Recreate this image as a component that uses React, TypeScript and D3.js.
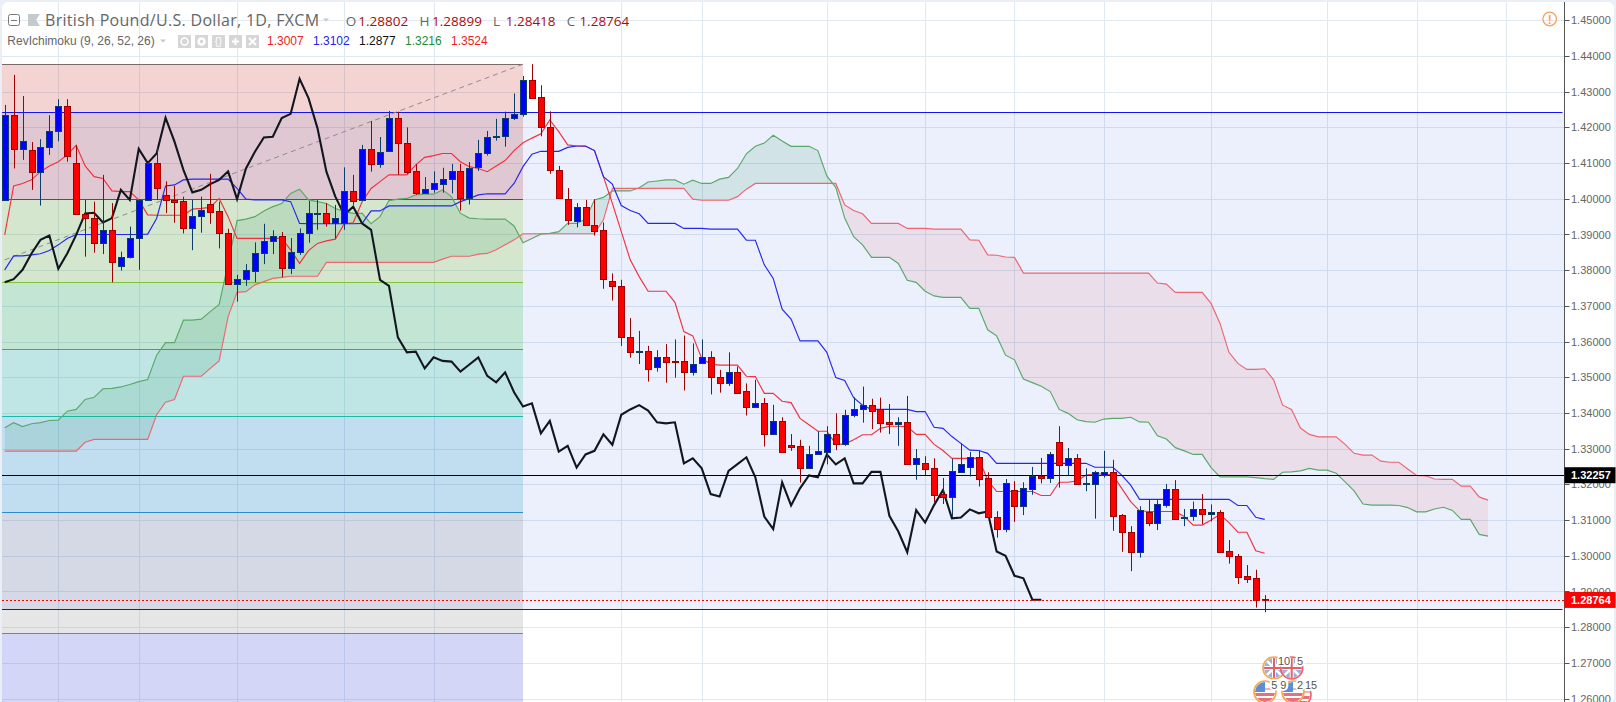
import React from "react";
import * as d3 from "d3";

const opens = [
1.3997,1.4234,1.4139,1.4136,1.4074,1.4145,1.4189,1.4259,1.4100,1.3957,
1.3946,1.3877,1.3912,1.3811,1.3836,1.3889,1.3997,1.4100,1.4012,1.3997,
1.3993,1.3918,1.3951,1.3985,1.3965,1.3903,1.3761,1.3774,1.3799,1.3847,
1.3883,1.3896,1.3805,1.3850,1.3903,1.3957,1.3960,1.3933,1.3933,1.4023,
1.3997,1.4139,1.4097,1.4133,1.4226,1.4156,1.4077,1.4017,1.4028,1.4042,
1.4055,1.4077,1.4002,1.4088,1.4127,1.4173,1.4175,1.4225,1.4237,1.4334,
1.4284,1.4200,1.4080,1.3999,1.3939,1.3976,1.3928,1.3912,1.3769,1.3755,
1.3612,1.3570,1.3573,1.3530,1.3556,1.3546,1.3545,1.3516,1.3541,1.3556,
1.3502,1.3485,1.3514,1.3461,1.3418,1.3428,1.3342,1.3377,1.3310,1.3308,
1.3247,1.3284,1.3292,1.3340,1.3312,1.3393,1.3410,1.3422,1.3411,1.3374,
1.3370,1.3374,1.3258,1.3259,1.3245,1.3173,1.3165,1.3236,1.3250,1.3276,
1.3217,1.3110,1.3076,1.3183,1.3140,1.3188,1.3224,1.3219,1.3318,1.3255,
1.3273,1.3202,1.3202,1.3226,1.3234,1.3113,1.3068,1.3012,1.3122,1.3093,
1.3143,1.3186,1.3105,1.3112,1.3130,1.3117,1.3124,1.3013,1.2999,1.2943,
1.2937,1.28802];
const closes = [
1.4234,1.4139,1.4162,1.4074,1.4145,1.4189,1.4259,1.4120,1.3957,1.3946,
1.3877,1.3912,1.3824,1.3836,1.3889,1.3997,1.4100,1.4031,1.3997,1.3992,
1.3918,1.3951,1.3968,1.3964,1.3903,1.3761,1.3775,1.3800,1.3847,1.3883,
1.3896,1.3805,1.3850,1.3903,1.3960,1.3961,1.3933,1.3946,1.4023,1.3995,
1.4139,1.4097,1.4130,1.4226,1.4156,1.4076,1.4017,1.4027,1.4043,1.4055,
1.4077,1.4002,1.4085,1.4128,1.4173,1.4177,1.4226,1.4237,1.4334,1.4283,
1.4200,1.4080,1.4002,1.3940,1.3976,1.3927,1.3911,1.3775,1.3755,1.3612,
1.3570,1.3574,1.3524,1.3556,1.3544,1.3544,1.3516,1.3537,1.3556,1.3502,
1.3485,1.3514,1.3457,1.3418,1.3428,1.3342,1.3377,1.3292,1.3306,1.3247,
1.3284,1.3294,1.3340,1.3312,1.3394,1.3411,1.3422,1.3407,1.3373,1.3370,
1.3374,1.3258,1.3273,1.3244,1.3171,1.3165,1.3237,1.3256,1.3276,1.3216,
1.3109,1.3075,1.3203,1.3140,1.3189,1.3224,1.3219,1.3284,1.3255,1.3273,
1.3202,1.3204,1.3234,1.3234,1.3112,1.3067,1.3012,1.3127,1.3093,1.3144,
1.3186,1.3104,1.3109,1.3130,1.3117,1.3124,1.3012,1.2999,1.2942,1.2936,
1.2876,1.28764];
const highs = [
1.4263,1.4347,1.4288,1.4159,1.4167,1.4234,1.4279,1.4279,1.4150,1.3997,
1.3992,1.4067,1.3988,1.3852,1.3922,1.3999,1.4102,1.4146,1.4049,1.4036,
1.4006,1.3997,1.4006,1.4070,1.3992,1.3916,1.3787,1.3817,1.3878,1.3930,
1.3912,1.3907,1.3890,1.3917,1.3994,1.3997,1.3988,1.3983,1.4088,1.4067,
1.4151,1.4218,1.4173,1.4246,1.4244,1.4200,1.4097,1.4061,1.4077,1.4087,
1.4098,1.4098,1.4103,1.4165,1.4190,1.4224,1.4244,1.4295,1.4344,1.4377,
1.4318,1.4245,1.4092,1.4030,1.3988,1.3997,1.3999,1.3934,1.3791,1.3773,
1.3666,1.3630,1.3588,1.3576,1.3593,1.3606,1.3617,1.3595,1.3606,1.3573,
1.3521,1.3570,1.3530,1.3483,1.3493,1.3442,1.3423,1.3388,1.3341,1.3325,
1.3308,1.3349,1.3363,1.3399,1.3409,1.3444,1.3474,1.3440,1.3443,1.3425,
1.3388,1.3448,1.3299,1.3279,1.3273,1.3218,1.3272,1.3315,1.3291,1.3294,
1.3234,1.3125,1.3215,1.3209,1.3206,1.3249,1.3274,1.3291,1.3363,1.3302,
1.3285,1.3245,1.3238,1.3294,1.3269,1.3117,1.3083,1.3139,1.3158,1.3156,
1.3201,1.3212,1.3131,1.3152,1.3173,1.3144,1.3128,1.3044,1.3005,1.2974,
1.2961,1.28899];
const lows = [
1.3995,1.4085,1.4109,1.4025,1.3981,1.4123,1.4161,1.4104,1.3955,1.3838,
1.3849,1.3845,1.3766,1.3799,1.3833,1.3801,1.3995,1.3997,1.3960,1.3933,
1.3903,1.3856,1.3905,1.3930,1.3861,1.3759,1.3712,1.3756,1.3766,1.3817,
1.3845,1.3780,1.3789,1.3843,1.3877,1.3913,1.3922,1.3889,1.3913,1.3983,
1.3995,1.4076,1.4087,1.4131,1.4067,1.4070,1.4011,1.4015,1.4017,1.4017,
1.4015,1.3967,1.3984,1.4078,1.4121,1.4163,1.4146,1.4221,1.4230,1.4283,
1.4175,1.4070,1.4002,1.3927,1.3920,1.3924,1.3897,1.3748,1.3715,1.3588,
1.3555,1.3537,1.3488,1.3516,1.3485,1.3499,1.3463,1.3505,1.3541,1.3452,
1.3457,1.3476,1.3457,1.3393,1.3416,1.3306,1.3342,1.3292,1.3294,1.3205,
1.3243,1.3283,1.3256,1.3296,1.3308,1.3388,1.3373,1.3355,1.3345,1.3341,
1.3308,1.3258,1.3213,1.3226,1.3150,1.3145,1.3109,1.3236,1.3222,1.3194,
1.3109,1.3051,1.3066,1.3095,1.3114,1.3171,1.3203,1.3204,1.3191,1.3226,
1.3202,1.3181,1.3104,1.3219,1.3070,1.3011,1.2957,1.2995,1.3083,1.3072,
1.3135,1.3104,1.3083,1.3098,1.3089,1.3096,1.3012,1.2978,1.2921,1.2924,
1.2855,1.28418];

const tenkan = [
1.3899,1.4036,1.4043,1.4053,1.4076,1.4092,1.4104,1.4123,1.4150,1.4092,
1.4062,1.4057,1.4022,1.4020,1.4020,1.3997,1.3955,1.3954,1.3954,1.3954,
1.3954,1.3971,1.3973,1.3976,1.4001,1.3950,1.3889,1.3889,1.3889,1.3889,
1.3889,1.3889,1.3857,1.3819,1.3855,1.3875,1.3882,1.3887,1.3930,1.3933,
1.3992,1.4029,1.4048,1.4067,1.4067,1.4067,1.4095,1.4116,1.4121,1.4127,
1.4127,1.4104,1.4090,1.4085,1.4076,1.4092,1.4107,1.4135,1.4157,1.4170,
1.4182,1.4221,1.4188,1.4151,1.4148,1.4147,1.4135,1.4062,1.3987,1.3908,
1.3829,1.3782,1.3741,1.3741,1.3741,1.3710,1.3628,1.3616,1.3553,1.3537,
1.3534,1.3534,1.3534,1.3503,1.3502,1.3455,1.3455,1.3433,1.3429,1.3385,
1.3367,1.3349,1.3349,1.3313,1.3313,1.3325,1.3339,1.3339,1.3357,1.3363,
1.3363,1.3362,1.3340,1.3340,1.3312,1.3295,1.3273,1.3273,1.3273,1.3273,
1.3212,1.3180,1.3180,1.3180,1.3180,1.3180,1.3169,1.3169,1.3206,1.3206,
1.3210,1.3226,1.3229,1.3229,1.3226,1.3189,1.3152,1.3126,1.3124,1.3124,
1.3124,1.3124,1.3110,1.3086,1.3086,1.3100,1.3116,1.3093,1.3066,1.3066,
1.3014,1.3007];
const kijun = [
1.3801,1.3840,1.3840,1.3843,1.3846,1.3855,1.3871,1.3889,1.3900,1.3900,
1.3900,1.3900,1.3900,1.3900,1.3900,1.3900,1.3901,1.3945,1.4036,1.4039,
1.4053,1.4055,1.4055,1.4055,1.4055,1.4055,1.4029,1.3999,1.3997,1.3997,
1.3997,1.3997,1.3992,1.3931,1.3930,1.3930,1.3930,1.3930,1.3930,1.3930,
1.3931,1.3966,1.3966,1.3980,1.3980,1.3980,1.3980,1.3980,1.3980,1.3980,
1.3980,1.3992,1.4001,1.4011,1.4014,1.4014,1.4014,1.4043,1.4090,1.4125,
1.4133,1.4133,1.4133,1.4144,1.4148,1.4148,1.4135,1.4062,1.4041,1.3981,
1.3967,1.3958,1.3931,1.3931,1.3931,1.3931,1.3917,1.3917,1.3917,1.3915,
1.3915,1.3915,1.3915,1.3884,1.3884,1.3815,1.3777,1.3691,1.3663,1.3602,
1.3602,1.3602,1.3570,1.3499,1.3491,1.3443,1.3422,1.3410,1.3410,1.3410,
1.3410,1.3410,1.3404,1.3404,1.3360,1.3357,1.3334,1.3315,1.3296,1.3295,
1.3287,1.3259,1.3259,1.3259,1.3259,1.3259,1.3259,1.3259,1.3259,1.3259,
1.3259,1.3259,1.3248,1.3248,1.3248,1.3226,1.3198,1.3158,1.3158,1.3158,
1.3158,1.3158,1.3158,1.3158,1.3158,1.3158,1.3158,1.3158,1.3141,1.3141,
1.3108,1.3102];
const chikou = [
1.3766,1.3775,1.3801,1.3847,1.3885,1.3897,1.3804,1.3847,1.3899,1.3959,
1.3961,1.3934,1.3946,1.4025,1.3997,1.4140,1.4100,1.4127,1.4227,1.4160,
1.4081,1.4018,1.4025,1.4041,1.4053,1.4077,1.3999,1.4085,1.4132,1.4172,
1.4174,1.4226,1.4238,1.4336,1.4282,1.4198,1.4076,1.4006,1.3955,1.3978,
1.3931,1.3913,1.3773,1.3756,1.3612,1.3570,1.3572,1.3525,1.3556,1.3546,
1.3544,1.3516,1.3536,1.3556,1.3504,1.3486,1.3514,1.3458,1.3418,1.3427,
1.3343,1.3378,1.3292,1.3308,1.3247,1.3284,1.3294,1.3340,1.3311,1.3395,
1.3410,1.3422,1.3407,1.3374,1.3371,1.3374,1.3259,1.3273,1.3245,1.3173,
1.3166,1.3238,1.3257,1.3276,1.3220,1.3110,1.3075,1.3206,1.3141,1.3189,
1.3225,1.3220,1.3284,1.3256,1.3273,1.3203,1.3203,1.3235,1.3235,1.3112,
1.3068,1.3010,1.3128,1.3093,1.3142,1.3184,1.3105,1.3107,1.3130,1.3119,
1.3124,1.3012,1.3000,1.2944,1.2937,1.2877,1.2877];
const senkouA = [
1.3359,1.3373,1.3362,1.3370,1.3373,1.3379,1.3380,1.3405,1.3410,1.3438,
1.3444,1.3468,1.3469,1.3473,1.3480,1.3488,1.3494,1.3562,1.3597,1.3597,
1.3660,1.3660,1.3663,1.3684,1.3704,1.3819,1.3939,1.3943,1.3950,1.3966,
1.3978,1.3987,1.4015,1.4027,1.3997,1.3992,1.3987,1.3973,1.3964,1.3959,
1.3959,1.3930,1.3950,1.3995,1.3999,1.4001,1.4011,1.4013,1.4013,1.4025,
1.4006,1.3959,1.3946,1.3944,1.3943,1.3943,1.3943,1.3924,1.3877,1.3889,
1.3901,1.3903,1.3908,1.3931,1.3931,1.3943,1.3997,1.4004,1.4022,1.4022,
1.4022,1.4031,1.4047,1.4050,1.4053,1.4053,1.4041,1.4052,1.4043,1.4043,
1.4055,1.4060,1.4085,1.4126,1.4147,1.4156,1.4178,1.4162,1.4147,1.4147,
1.4147,1.4135,1.4064,1.4032,1.3946,1.3894,1.3871,1.3836,1.3836,1.3836,
1.3819,1.3772,1.3766,1.3741,1.3728,1.3724,1.3724,1.3724,1.3693,1.3693,
1.3633,1.3616,1.3562,1.3549,1.3495,1.3485,1.3475,1.3460,1.3410,1.3399,
1.3381,1.3376,1.3374,1.3383,1.3385,1.3385,1.3388,1.3375,1.3374,1.3336,
1.3327,1.3303,1.3294,1.3284,1.3284,1.3247,1.3221,1.3221,1.3221,1.3221,
1.3219,1.3216,1.3214,1.3234,1.3235,1.3238,1.3245,1.3240,1.3240,1.3231,
1.3207,1.3182,1.3145,1.3142,1.3142,1.3142,1.3141,1.3135,1.3123,1.3123,
1.3131,1.3136,1.3127,1.3102,1.3102,1.3060,1.3055];
const senkouB = [
1.3293,1.3293,1.3293,1.3293,1.3293,1.3293,1.3293,1.3293,1.3293,1.3318,
1.3326,1.3326,1.3326,1.3326,1.3326,1.3326,1.3326,1.3395,1.3430,1.3438,
1.3503,1.3503,1.3503,1.3525,1.3546,1.3670,1.3738,1.3740,1.3759,1.3768,
1.3777,1.3780,1.3783,1.3783,1.3783,1.3783,1.3822,1.3822,1.3822,1.3822,
1.3822,1.3822,1.3822,1.3822,1.3822,1.3822,1.3822,1.3822,1.3822,1.3831,
1.3839,1.3839,1.3839,1.3845,1.3847,1.3857,1.3871,1.3885,1.3902,1.3902,
1.3902,1.3902,1.3902,1.3902,1.3902,1.3902,1.3902,1.3941,1.4029,1.4029,
1.4029,1.4029,1.4029,1.4029,1.4029,1.4029,1.4029,1.3999,1.3996,1.3996,
1.3996,1.3996,1.4006,1.4027,1.4043,1.4043,1.4043,1.4043,1.4043,1.4043,
1.4043,1.4043,1.4043,1.4043,1.3983,1.3967,1.3958,1.3931,1.3931,1.3931,
1.3931,1.3917,1.3917,1.3917,1.3915,1.3915,1.3915,1.3915,1.3885,1.3884,
1.3843,1.3842,1.3837,1.3836,1.3792,1.3792,1.3792,1.3792,1.3792,1.3792,
1.3792,1.3792,1.3792,1.3792,1.3792,1.3792,1.3792,1.3792,1.3792,1.3764,
1.3761,1.3738,1.3738,1.3738,1.3738,1.3707,1.3651,1.3570,1.3539,1.3522,
1.3522,1.3524,1.3493,1.3422,1.3410,1.3358,1.3340,1.3333,1.3333,1.3333,
1.3312,1.3287,1.3282,1.3282,1.3265,1.3262,1.3262,1.3243,1.3225,1.3224,
1.3215,1.3214,1.3214,1.3195,1.3195,1.3165,1.3156];

const priceTicks = d3.range(1.26, 1.4501, 0.01);
const gridBars = [6, 15, 26, 38, 48, 69, 78, 92, 103, 113, 123, 135, 148, 158, 168];
const fibLevels = [1.4377, 1.3999, 1.3766, 1.3578, 1.3391, 1.3122, 1.2783, 1.2];
const fibFills = ["rgba(200,40,30,0.2)", "rgba(128,204,0,0.2)", "rgba(40,200,40,0.2)", "rgba(20,205,130,0.2)", "rgba(30,160,190,0.2)", "rgba(128,128,128,0.2)", "rgba(60,70,220,0.22)"];
const fibStrokes = ["#7a6a6a", "#a5352c", "#8ad020", "#33c040", "#18c8a0", "#2a96cc", "#80808c"];
const rectTop = 1.4242;
const rectBottom = 1.285;
const hLine = 1.32257;
const lastPrice = 1.28764;
const ohlcLabels = [
  { k: "O", v: "1.28802" },
  { k: "H", v: "1.28899" },
  { k: "L", v: "1.28418" },
  { k: "C", v: "1.28764" },
];
const studyValues = [
  { v: "1.3007", c: "#ee2222" },
  { v: "1.3102", c: "#2222ee" },
  { v: "1.2877", c: "#111111" },
  { v: "1.3216", c: "#1f8a2f" },
  { v: "1.3524", c: "#ee2222" },
];

const W = 1616;
const H = 702;
const axisX = 1564.5;
const x = d3.scaleLinear().domain([0, 141]).range([4.7, 1264.7]);
const y = d3.scaleLinear().domain([1.26, 1.45]).range([698.6, 20.3]);

const lineOf = (vals: number[]) =>
  d3.line<number>().x((_, i) => x(i)).y((v) => y(v))(vals) as string;

const kumoArea = d3
  .area<number>()
  .x((_, i) => x(i))
  .y0((_, i) => y(senkouB[i]))
  .y1((v) => y(v))(senkouA) as string;
const aboveB = d3
  .area<number>()
  .x((_, i) => x(i))
  .y0(0)
  .y1((v) => y(v))(senkouB) as string;
const belowB = d3
  .area<number>()
  .x((_, i) => x(i))
  .y0(H)
  .y1((v) => y(v))(senkouB) as string;

const font = "'Liberation Sans', Arial, sans-serif";
const headFont = "'Open Sans', 'DejaVu Sans', sans-serif";

function Flag({ cx, cy, kind, ring }: { cx: number; cy: number; kind: "uk" | "us"; ring: string }) {
  const id = `f${Math.round(cx)}${Math.round(cy)}`;
  return (
    <g>
      <clipPath id={id}>
        <circle cx={cx} cy={cy} r={10} />
      </clipPath>
      <g clipPath={`url(#${id})`}>
        <rect x={cx - 11} y={cy - 11} width={22} height={22} fill="#fff" />
        {kind === "uk" ? (
          <g>
            <rect x={cx - 11} y={cy - 11} width={22} height={22} fill="#9cb2dc" />
            <path d={`M${cx - 10} ${cy - 10}L${cx + 10} ${cy + 10}M${cx + 10} ${cy - 10}L${cx - 10} ${cy + 10}`} stroke="#fff" strokeWidth={2.5} />
            <path d={`M${cx} ${cy - 11}V${cy + 11}M${cx - 11} ${cy}H${cx + 11}`} stroke="#fff" strokeWidth={4} />
            <path d={`M${cx} ${cy - 11}V${cy + 11}M${cx - 11} ${cy}H${cx + 11}`} stroke="#e0606a" strokeWidth={2} />
          </g>
        ) : (
          <g>
            <rect x={cx - 11} y={cy + 1} width={22} height={10} fill="#e8707a" />
            <rect x={cx - 11} y={cy + 4} width={22} height={2} fill="#fff" />
            <rect x={cx - 11} y={cy - 11} width={11} height={11} fill="#5b8ed8" />
            <rect x={cx} y={cy - 4} width={11} height={2} fill="#f4b0b4" />
          </g>
        )}
      </g>
      <circle cx={cx} cy={cy} r={11} fill="none" stroke={ring} strokeWidth={1.6} />
    </g>
  );
}

function Badge({ cx, cy, t }: { cx: number; cy: number; t: string }) {
  return (
    <g>
      <rect x={cx - (t.length > 1 ? 7 : 5)} y={cy - 6} width={t.length > 1 ? 14 : 10} height={12} rx={5} fill="#fff" />
      <text x={cx} y={cy + 4} textAnchor="middle" fontFamily={font} fontSize={11} fill="#555">{t}</text>
    </g>
  );
}

export default function App() {
  return (
    <svg
      width={W}
      height={H}
      style={{ position: "fixed", left: 0, top: 0, display: "block" }}
    >
      <rect x={0} y={0} width={W} height={H} fill="#e9eff4" />
      <rect x={2} y={2} width={W - 4} height={H} rx={6} fill="#ffffff" />
      <clipPath id="plot">
        <rect x={2} y={2} width={axisX - 2} height={H - 2} />
      </clipPath>

      <g clipPath="url(#plot)">
        {priceTicks.map((p) => (
          <line key={p} x1={2} x2={axisX} y1={Math.round(y(p)) + 0.5} y2={Math.round(y(p)) + 0.5} stroke="#e0e9f1" />
        ))}
        {gridBars.map((b) => (
          <line key={b} x1={Math.round(x(b)) + 0.5} x2={Math.round(x(b)) + 0.5} y1={2} y2={H} stroke="#e0e9f1" />
        ))}

        {fibFills.map((f, i) => (
          <rect
            key={f}
            x={2}
            width={x(58) - 2}
            y={y(fibLevels[i])}
            height={y(fibLevels[i + 1]) - y(fibLevels[i])}
            fill={f}
          />
        ))}
        {fibStrokes.map((s, i) => (
          <line key={s} x1={2} x2={x(58)} y1={Math.round(y(fibLevels[i])) + 0.5} y2={Math.round(y(fibLevels[i])) + 0.5} stroke={s} />
        ))}

        <rect x={2} width={axisX - 2} y={y(rectTop)} height={y(rectBottom) - y(rectTop)} fill="rgba(0,70,220,0.08)" />
        <line x1={2} x2={axisX - 2} y1={Math.round(y(rectTop)) + 0.5} y2={Math.round(y(rectTop)) + 0.5} stroke="#1414f0" />
        <line x1={2} x2={axisX - 2} y1={Math.round(y(rectBottom)) + 0.5} y2={Math.round(y(rectBottom)) + 0.5} stroke="#1414d8" />

        <line x1={x(0)} x2={x(58)} y1={y(1.3829)} y2={y(1.4377)} stroke="#8c8c8c" strokeDasharray="5 4" />

        <clipPath id="above"><path d={aboveB} /></clipPath>
        <clipPath id="below"><path d={belowB} /></clipPath>
        <path d={kumoArea} fill="rgba(0,128,60,0.11)" clipPath="url(#above)" />
        <path d={kumoArea} fill="rgba(220,40,60,0.09)" clipPath="url(#below)" />
        <path d={lineOf(senkouA)} fill="none" stroke="#5aa86a" strokeWidth={1.15} />
        <path d={lineOf(senkouB)} fill="none" stroke="#ee6670" strokeWidth={1.15} />

        <path d={lineOf(tenkan)} fill="none" stroke="#f23040" strokeWidth={1.15} />
        <path d={lineOf(kijun)} fill="none" stroke="#2626f0" strokeWidth={1.15} />
        <path d={lineOf(chikou)} fill="none" stroke="#12161e" strokeWidth={2.1} />

        <line x1={2} x2={axisX} y1={Math.round(y(hLine)) + 0.5} y2={Math.round(y(hLine)) + 0.5} stroke="#000" />

        {opens.map((o, i) => {
          const c = closes[i];
          const up = c >= o;
          const cx = Math.round(x(i));
          const top = Math.round(y(Math.max(o, c)));
          const bot = Math.round(y(Math.min(o, c)));
          const wick = up ? "#0c3c6c" : "#a00000";
          return (
            <g key={i}>
              <line x1={cx + 0.5} x2={cx + 0.5} y1={y(highs[i])} y2={y(lows[i])} stroke={wick} />
              <rect
                x={cx - 2.5}
                y={top + 0.5}
                width={6}
                height={Math.max(bot - top, 1)}
                fill={up ? "#0000ff" : "#ff0000"}
                stroke={wick}
              />
            </g>
          );
        })}

        <line x1={2} x2={axisX} y1={Math.round(y(lastPrice)) + 0.5} y2={Math.round(y(lastPrice)) + 0.5} stroke="#ff0000" strokeDasharray="2 2" />

        <Flag cx={1300} cy={695} kind="us" ring="#f0606a" />
        <Flag cx={1274} cy={668} kind="uk" ring="#f5a84a" />
        <Flag cx={1291.7} cy={668} kind="uk" ring="#f0606a" />
        <Flag cx={1265} cy={692} kind="us" ring="#f5a84a" />
        <Flag cx={1293} cy={692} kind="us" ring="#f5a84a" />
        <Badge cx={1284} cy={661} t="10" />
        <Badge cx={1300} cy={661} t="5" />
        <Badge cx={1274.3} cy={685} t="5" />
        <Badge cx={1283.3} cy={685} t="9" />
        <Badge cx={1300} cy={685} t="2" />
        <Badge cx={1311} cy={685} t="15" />
      </g>

      <line x1={axisX} x2={axisX} y1={2} y2={H} stroke="#555" strokeWidth={1} />
      {priceTicks.map((p) => (
        <g key={p}>
          <line x1={axisX} x2={axisX + 5} y1={Math.round(y(p)) + 0.5} y2={Math.round(y(p)) + 0.5} stroke="#555" />
          <text x={1571} y={y(p) + 4} fontFamily={font} fontSize={11} fill="#666">
            {p.toFixed(5)}
          </text>
        </g>
      ))}
      <rect x={axisX} y={y(hLine) - 8} width={51} height={16} fill="#000" />
      <text x={1571} y={y(hLine) + 4} fontFamily={font} fontSize={11} fontWeight="bold" fill="#fff">{hLine.toFixed(5)}</text>
      <rect x={axisX} y={y(lastPrice) - 8} width={51} height={16} fill="#ff0000" />
      <text x={1571} y={y(lastPrice) + 4} fontFamily={font} fontSize={11} fontWeight="bold" fill="#fff">{lastPrice.toFixed(5)}</text>

      <circle cx={1549.7} cy={19} r={6.8} fill="none" stroke="#f7a25c" strokeWidth={1.3} />
      <text x={1549.7} y={23.5} textAnchor="middle" fontFamily={font} fontSize={12} fontWeight="bold" fill="#f7a25c">!</text>

      <rect x={8.5} y={14.5} width={11} height={11} rx={2} fill="#fff" stroke="#777" />
      <line x1={11} x2={17} y1={20.5} y2={20.5} stroke="#777" />
      <path d="M28 14H40L36 20L40 26H28Z" fill="#c5cacc" />
      <text x={45} y={26} fontFamily={headFont} fontSize={16} letterSpacing={0.3} fill="#666">British Pound/U.S. Dollar, 1D, FXCM</text>
      <path d="M323 18.5H329L326 21.5Z" fill="#c8c8c8" />
      {ohlcLabels.map((d, i) => (
        <g key={d.k}>
          <text x={345.7 + i * 73.7} y={26} fontFamily={headFont} fontSize={13.5} fill="#666">{d.k}</text>
          <text x={358.3 + i * 73.7} y={26} fontFamily={headFont} fontSize={13.5} fill="#a80c0c">{d.v}</text>
        </g>
      ))}

      <text x={7.3} y={45} fontFamily={font} fontSize={12} fill="#666">RevIchimoku (9, 26, 52, 26)</text>
      <path d="M160 39.5H166L163 42.5Z" fill="#c8c8c8" />
      {[178, 195, 212, 229, 246].map((bx, i) => (
        <g key={bx}>
          <rect x={bx} y={35} width={13} height={13} fill="#d6d6d6" />
          {i === 3 ? <path d={`M${bx + 3} ${41.5}H${bx + 10}M${bx + 6.5} 38V45`} stroke="#fff" strokeWidth={2} /> : null}
          {i === 4 ? <path d={`M${bx + 3} 38L${bx + 10} 45M${bx + 10} 38L${bx + 3} 45`} stroke="#fff" strokeWidth={2} /> : null}
          {i === 0 ? <circle cx={bx + 6.5} cy={41.5} r={3.5} fill="none" stroke="#fff" strokeWidth={1.5} /> : null}
          {i === 1 ? <circle cx={bx + 6.5} cy={41.5} r={3} fill="none" stroke="#fff" strokeWidth={2.5} /> : null}
          {i === 2 ? <text x={bx + 6.5} y={45} textAnchor="middle" fontFamily={font} fontSize={11} fill="#fff">{"{}"}</text> : null}
        </g>
      ))}
      {studyValues.map((d, i) => (
        <text key={i} x={267 + i * 46} y={45} fontFamily={font} fontSize={12} fill={d.c}>{d.v}</text>
      ))}
    </svg>
  );
}
